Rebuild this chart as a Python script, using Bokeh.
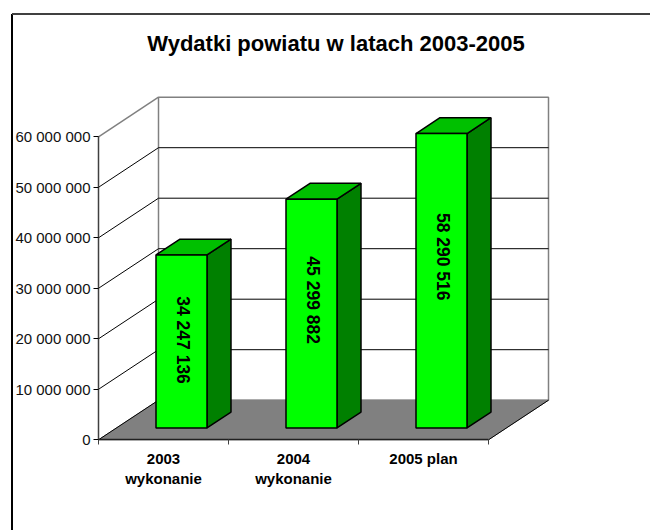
from bokeh.plotting import figure
from bokeh.models import Range1d, FixedTicker, Label
from bokeh.core.properties import value
from bokeh.embed import file_html
from bokeh.resources import INLINE

# ---- data ----
categories = ["2003\nwykonanie", "2004\nwykonanie", "2005 plan"]
wydatki = [34247136, 45299882, 58290516]
wydatki_labels = ["34 247 136", "45 299 882", "58 290 516"]
y_ticks = [0, 10000000, 20000000, 30000000, 40000000, 50000000, 60000000]
y_tick_labels = ["0", "10 000 000", "20 000 000", "30 000 000", "40 000 000", "50 000 000", "60 000 000"]
title_text = "Wydatki powiatu w latach 2003-2005"

# ---- layout / projection ----
W, H = 650, 530
PX_CAT = 130.0               # px per category
PX_VAL = 50.5 / 10000000     # px per value unit
X0, Y0 = 98, 439.3           # front origin inside the canvas
DX = 60 / PX_CAT             # depth, x share
DY = 39.6 / PX_VAL           # depth, y share
BAR_W = 51 / PX_CAT
D_FRONT, D_BACK = 0.3, 0.7   # bar's depth positions
N = len(categories)
TOP = y_ticks[-1]
FONT = "Liberation Sans"
label_heights = [17400000, 25300000, 33900000]   # where each rotated label sits above the bar's base

xmin, xmax = -X0 / PX_CAT, (W - X0) / PX_CAT
ymin, ymax = -(H - Y0) / PX_VAL, Y0 / PX_VAL

p = figure(width=W, height=H, output_backend="svg", toolbar_location=None,
           x_range=Range1d(xmin, xmax), y_range=Range1d(ymin, ymax),
           min_border=0, min_border_left=0, min_border_right=0,
           min_border_top=0, min_border_bottom=0, title=None)
p.grid.visible = False
p.outline_line_color = None

# chart frame: only its top and left edges are visible
frame_l = (11.5 - X0) / PX_CAT
frame_t = (Y0 - 13.5) / PX_VAL
p.line([frame_l, frame_l], [ymin, frame_t], line_color="#000000", line_width=2)
p.line([frame_l, xmax], [frame_t, frame_t], line_color="#404040", line_width=2)

# back wall and side wall
GRAY = "#808080"
p.patch([DX, N + DX, N + DX, DX], [DY, DY, TOP + DY, TOP + DY], fill_color="white",
        line_color=GRAY, line_width=1.5)
p.line([0, DX], [TOP, TOP + DY], line_color=GRAY, line_width=1.5)

# grid lines
for v in y_ticks[1:-1]:
    p.line([0, DX, N + DX], [v, v + DY, v + DY], line_color="black", line_width=1)

# floor
p.patch([0, N, N + DX, DX], [0, 0, DY, DY], fill_color=GRAY, line_color=GRAY, line_width=1)
p.line([0, DX], [0, DY], line_color="black", line_width=1)
p.line([N, N + DX], [0, DY], line_color="black", line_width=1)

# 3D bars
for i, v in enumerate(wydatki):
    c = i + 0.5 + D_FRONT * DX
    l, r = c - BAR_W / 2, c + BAR_W / 2
    ox, oy = (D_BACK - D_FRONT) * DX, (D_BACK - D_FRONT) * DY
    base = D_FRONT * DY
    # side
    p.patch([r, r + ox, r + ox, r], [base, base + oy, base + v + oy, base + v],
            fill_color="#008000", line_color="black", line_width=1.5)
    # top
    p.patch([l, r, r + ox, l + ox], [base + v, base + v, base + v + oy, base + v + oy],
            fill_color="#00C000", line_color="black", line_width=1.5)
    # front
    p.quad(left=l, right=r, bottom=base, top=base + v,
           fill_color="#00FF00", line_color="black", line_width=1.5)
    p.text([c], [base + label_heights[i]], text=[wydatki_labels[i]], angle=-1.5708,
           x_offset=1.5, text_align="center", text_baseline="middle", text_color="black",
           text_font=value(FONT), text_font_style="bold", text_font_size="17.5px")

# axes on the front plane
ax = p.xaxis[0]
ax.fixed_location = 0
ax.bounds = (0, N)
ax.ticker = FixedTicker(ticks=[i + 0.5 for i in range(N)], minor_ticks=list(range(N + 1)))
ax.major_label_overrides = {i + 0.5: c for i, c in enumerate(categories)}
ax.major_tick_out = 0
ax.major_tick_in = 0
ax.minor_tick_out = 5
ax.minor_tick_in = 0
ax.minor_tick_line_color = "#404040"
ax.axis_line_color = "#202020"
ax.axis_line_width = 1.5
ax.major_label_standoff = 5
ax.major_label_text_font = FONT
ax.major_label_text_font_style = "bold"
ax.major_label_text_font_size = "15px"
ax.major_label_text_color = "black"
ax.major_label_orientation = "horizontal"

ay = p.yaxis[0]
ay.fixed_location = 0
ay.bounds = (0, TOP)
ay.ticker = FixedTicker(ticks=y_ticks)
ay.major_label_overrides = dict(zip(y_ticks, y_tick_labels))
ay.major_tick_out = 5
ay.major_tick_in = 0
ay.minor_tick_out = 0
ay.minor_tick_in = 0
ay.major_tick_line_color = "black"
ay.axis_line_color = "#404040"
ay.axis_line_width = 1.5
ay.major_label_standoff = 3
ay.major_label_text_font = FONT
ay.major_label_text_font_size = "15px"
ay.major_label_text_color = "#111111"
ay.major_label_orientation = "horizontal"

# title
p.add_layout(Label(x=335.5, y=H - 43, x_units="screen", y_units="screen",
                   text=title_text, text_align="center", text_baseline="middle",
                   text_font=FONT, text_font_style="bold", text_font_size="22px",
                   text_color="black"))

open("out.html", "w").write(file_html(p, INLINE))
